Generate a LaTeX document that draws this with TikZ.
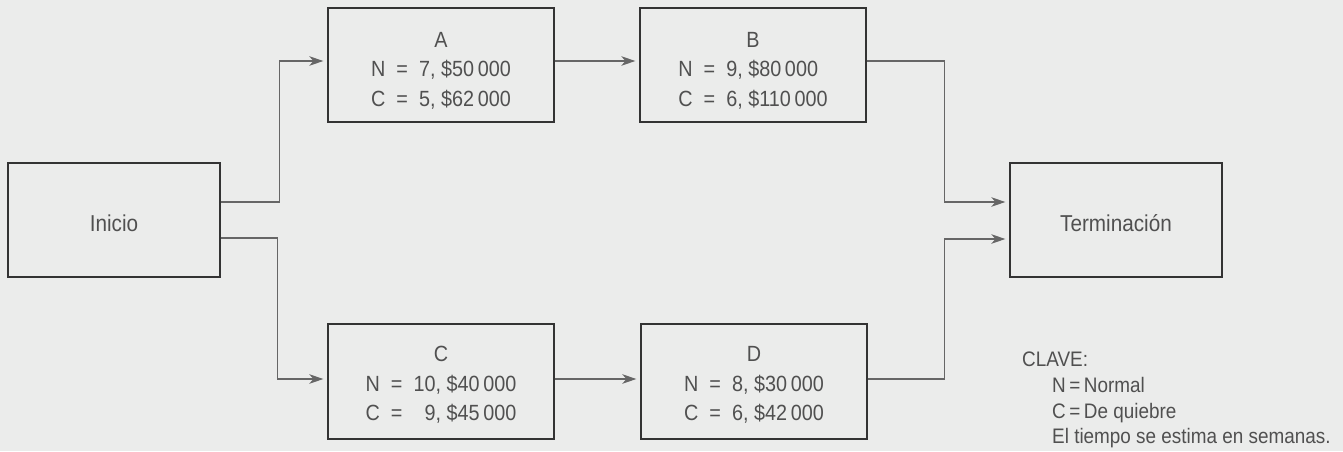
\documentclass[tikz,border=0pt]{standalone}
\usepackage{fontspec}
\setmainfont{Liberation Sans}[FakeStretch=0.9]
\usetikzlibrary{arrows.meta}
\definecolor{bgc}{HTML}{EBECEB}
\definecolor{txtc}{HTML}{505050}
\definecolor{boxc}{HTML}{333333}
\definecolor{linec}{HTML}{666666}
\newcommand{\eqs}{\hspace{11pt}=\hspace{11pt}}
\newcommand{\lowerby}[2]{\raisebox{0pt}[\dimexpr\height+#1*2\relax]{#2}}
\newcommand{\actbox}[6]{\lowerby{#6}{\begin{tabular}{c@{\eqs}r@{, }l}
  \multicolumn{3}{c}{#1}\\ N & #2 & #3\\ C & #4 & #5\end{tabular}}}
\begin{document}
\begin{tikzpicture}[x=1pt,y=-1pt,
  box/.style={draw=boxc,line width=1.3pt,fill=bgc,inner sep=0pt,
    minimum width=226pt,minimum height=114pt,text=txtc,align=center,
    font=\fontsize{22}{29.5}\selectfont},
  endbox/.style={box,minimum width=212pt,font=\fontsize{23}{28}\selectfont},
  conn/.style={draw=linec,line width=1.6pt,
    -{Stealth[length=14pt,width=9.5pt,inset=4pt]},shorten >=4pt},
  key/.style={anchor=base west,inner sep=0pt,text=txtc,font=\fontsize{21}{26}\selectfont}]
\fill[bgc] (0,0) rectangle (1343,451);
\useasboundingbox (0,0) rectangle (1343,451);

\node[endbox] (ini) at (114,220) {\lowerby{3pt}{Inicio}};
\node[endbox] (ter) at (1116,220) {\lowerby{3pt}{Terminación}};
\node[box] (A) at (441,65) {\actbox{A}{7}{\$50\,000}{5}{\$62\,000}{6pt}};
\node[box] (B) at (753,65) {\actbox{B}{9}{\$80\,000}{6}{\$110\,000}{6pt}};
\node[box,minimum height=115pt] (C) at (441,381.5) {\actbox{C}{10}{\$40\,000}{9}{\$45\,000}{4pt}};
\node[box,minimum height=115pt] (D) at (754,381.5) {\actbox{D}{8}{\$30\,000}{6}{\$42\,000}{4pt}};

\draw[conn] ([yshift=18pt]ini.east) -- ++(59pt,0) |- ([yshift=4pt]A.west);
\draw[conn] ([yshift=-18pt]ini.east) -- ++(57pt,0) |- ([yshift=2.5pt]C.west);
\draw[conn] ([yshift=4pt]A.east) -- ([yshift=4pt]B.west);
\draw[conn] ([yshift=2.5pt]C.east) -- ([yshift=2.5pt]D.west);
\draw[conn] ([yshift=4pt]B.east) -- ++(78pt,0) |- ([yshift=18pt]ter.west);
\draw[conn] ([yshift=2.5pt]D.east) -- ++(77pt,0) |- ([yshift=-19pt]ter.west);

\node[key] (k0) at (1022,366) {CLAVE:};
\node[key] (k1) at (1052,392) {N\,=\,Normal};
\node[key] (k2) at (1052,418) {C\,=\,De quiebre};
\node[key] (k3) at (1052,443) {El tiempo se estima en semanas.};
\end{tikzpicture}
\end{document}
